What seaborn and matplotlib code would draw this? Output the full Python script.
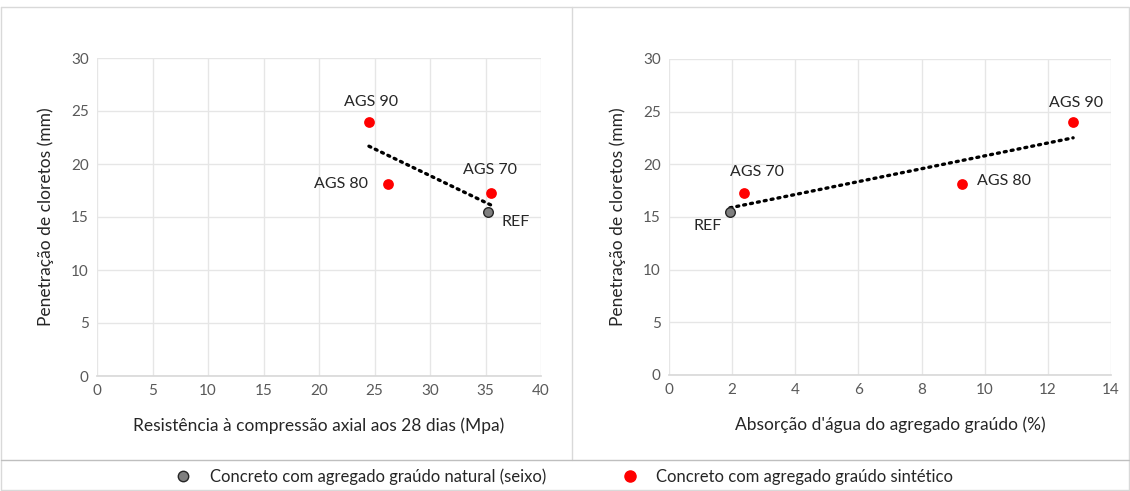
import matplotlib
matplotlib.use("Agg")
import matplotlib.pyplot as plt
import matplotlib.lines as mlines
import seaborn as sns
import pandas as pd
import numpy as np

labels = ["REF", "AGS 70", "AGS 80", "AGS 90"]
groups = ["natural", "sint", "sint", "sint"]
resistencia = [35.2, 35.5, 26.2, 24.5]
absorcao = [1.93, 2.38, 9.28, 12.8]
penetracao = [15.5, 17.3, 18.1, 24.0]

df = pd.DataFrame({"label": labels, "grupo": groups, "res": resistencia,
                   "abs": absorcao, "pen": penetracao})

sns.set_theme(style="white")
plt.rcParams["font.family"] = ["Lato", "DejaVu Sans"]

fig = plt.figure(figsize=(11.3, 4.91), dpi=100)
W, H = 1130, 491
ax1 = fig.add_axes([97 / W, 1 - 376 / H, (541 - 97) / W, (376 - 58) / H])
ax2 = fig.add_axes([669 / W, 1 - 375 / H, (1111 - 669) / W, (375 - 59) / H])

palette = {"natural": "#7f7f7f", "sint": "#ff0000"}
edges = {"natural": "#262626", "sint": "#ff0000"}

def draw(ax, xcol, xlim, xticks, xlabel, offsets):
    sns.regplot(data=df, x=xcol, y="pen", ax=ax, scatter=False, ci=None,
                line_kws=dict(color="black", lw=2.4, ls=(0, (0.6, 1.5)),
                              dash_capstyle="round"))
    for g in ["natural", "sint"]:
        sub = df[df.grupo == g]
        sns.scatterplot(data=sub, x=xcol, y="pen", ax=ax, color=palette[g],
                        edgecolor=edges[g], linewidth=1.0 if g == "natural" else 0,
                        s=48 if g == "natural" else 60, zorder=5, legend=False)
    for _, r in df.iterrows():
        dx, dy, ha = offsets[r["label"]]
        ax.annotate(r["label"], (r[xcol], r["pen"]), xytext=(dx, dy),
                    textcoords="offset pixels", ha=ha, va="center",
                    fontsize=11.5, color="#262626")
    ax.set_xlim(*xlim)
    ax.set_ylim(0, 30)
    ax.set_xticks(xticks)
    ax.set_yticks([0, 5, 10, 15, 20, 25, 30])
    ax.grid(True, color="#e6e6e6", lw=1)
    for s in ["top", "right", "left"]:
        ax.spines[s].set_visible(False)
    ax.spines["bottom"].set_color("#d9d9d9")
    ax.tick_params(axis="both", labelsize=11, colors="#595959", length=0, pad=6)
    ax.set_xlabel(xlabel, fontsize=12.5, color="#262626", labelpad=14)
    ax.set_ylabel("Penetração de cloretos (mm)", fontsize=12.5, color="#262626",
                  labelpad=12)
    ax.set_facecolor("white")

draw(ax1, "res", (0, 40), range(0, 41, 5),
     "Resistência à compressão axial aos 28 dias (Mpa)",
     {"REF": (14, -10, "left"), "AGS 70": (-1, 23, "center"),
      "AGS 80": (-20, 0, "right"), "AGS 90": (2, 20, "center")})
draw(ax2, "abs", (0, 14), range(0, 15, 2),
     "Absorção d'água do agregado graúdo (%)",
     {"REF": (-22, -14, "center"), "AGS 70": (13, 21, "center"),
      "AGS 80": (15, 3, "left"), "AGS 90": (3, 19, "center")})

# frame and dividers
fig.add_artist(mlines.Line2D([1 / W, 1 - 1 / W, 1 - 1 / W, 1 / W, 1 / W],
                             [1 - 7 / H, 1 - 7 / H, 1 / H, 1 / H, 1 - 7 / H],
                             color="#d9d9d9", lw=1, transform=fig.transFigure))
fig.add_artist(mlines.Line2D([572 / W, 572 / W], [1 - 7 / H, 1 - 460 / H],
                             color="#d9d9d9", lw=1, transform=fig.transFigure))
fig.add_artist(mlines.Line2D([1 / W, 1 - 1 / W], [1 - 460 / H, 1 - 460 / H],
                             color="#bfbfbf", lw=1, transform=fig.transFigure))

h1 = mlines.Line2D([], [], ls="none", marker="o", markersize=7.5,
                   markerfacecolor="#7f7f7f", markeredgecolor="#262626",
                   markeredgewidth=1.0)
h2 = mlines.Line2D([], [], ls="none", marker="o", markersize=8,
                   markerfacecolor="#ff0000", markeredgecolor="#ff0000")
fig.legend([h1, h2], ["Concreto com agregado graúdo natural (seixo)",
                      "Concreto com agregado graúdo sintético"],
           loc="center", bbox_to_anchor=(560 / W, 1 - 477 / H), ncol=2,
           frameon=False, fontsize=12, columnspacing=4.0, handletextpad=0.6,
           labelcolor="#262626")

fig.savefig("out.png", dpi=100, facecolor="white")
